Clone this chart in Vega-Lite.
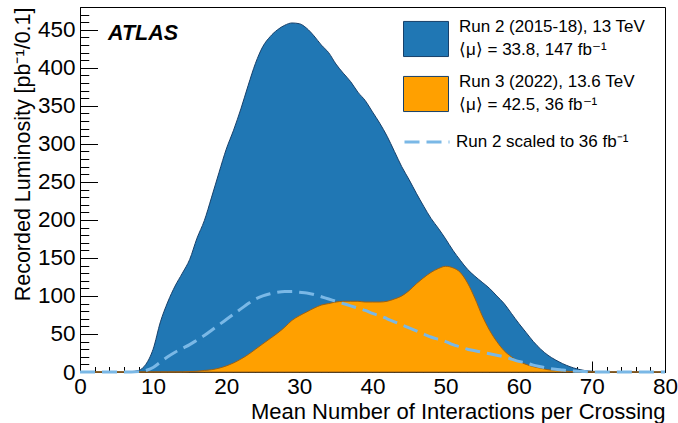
{
  "$schema": "https://vega.github.io/schema/vega-lite/v6.json",
  "width": 585,
  "height": 365,
  "autosize": "none",
  "padding": {"left": 80, "top": 7, "right": 13, "bottom": 51},
  "background": "white",
  "view": {"stroke": "black", "strokeWidth": 1},
  "title": {"text": "ATLAS", "anchor": "start", "frame": "group", "orient": "top", "offset": -36, "dx": 28, "dy": 34, "font": "Liberation Sans", "fontSize": 21.5, "fontStyle": "italic", "fontWeight": "bold", "color": "black", "baseline": "bottom"},
  "config": {
    "font": "Liberation Sans",
    "style": {"guide-label": {"lineHeight": 23}},
    "axis": {"domainColor": "black", "tickColor": "black", "labelColor": "black", "titleColor": "black", "labelFont": "Liberation Sans", "titleFont": "Liberation Sans", "labelFontSize": 22.5, "titleFontSize": 22, "titleFontWeight": "normal", "grid": false, "labelFlush": false, "labelOverlap": false, "domainWidth": 1, "tickWidth": 1, "zindex": 1}
  },
  "data": {"values": [
    {"mu": 0, "run2": 0, "run3": 0, "run2s": 0},
    {"mu": 1, "run2": 0, "run3": 0, "run2s": 0},
    {"mu": 2, "run2": 0, "run3": 0, "run2s": 0},
    {"mu": 3, "run2": 0, "run3": 0, "run2s": 0},
    {"mu": 4, "run2": 0, "run3": 0, "run2s": 0},
    {"mu": 5, "run2": 0, "run3": 0, "run2s": 0},
    {"mu": 6, "run2": 0, "run3": 0, "run2s": 0},
    {"mu": 7, "run2": 0.5, "run3": 0, "run2s": 0},
    {"mu": 8, "run2": 2, "run3": 0, "run2s": 0.5},
    {"mu": 9, "run2": 10, "run3": 0, "run2s": 2},
    {"mu": 10, "run2": 30, "run3": 0, "run2s": 6},
    {"mu": 11, "run2": 66, "run3": 0, "run2s": 13},
    {"mu": 12, "run2": 92, "run3": 0, "run2s": 20},
    {"mu": 13, "run2": 113, "run3": 0, "run2s": 26},
    {"mu": 14, "run2": 130, "run3": 0, "run2s": 31},
    {"mu": 15, "run2": 148, "run3": 0.5, "run2s": 36},
    {"mu": 16, "run2": 176, "run3": 1, "run2s": 42},
    {"mu": 17, "run2": 199, "run3": 2, "run2s": 48},
    {"mu": 18, "run2": 230, "run3": 3, "run2s": 55},
    {"mu": 19, "run2": 262, "run3": 5, "run2s": 62},
    {"mu": 20, "run2": 293, "run3": 8, "run2s": 69},
    {"mu": 21, "run2": 318, "run3": 12, "run2s": 76},
    {"mu": 22, "run2": 346, "run3": 17, "run2s": 83},
    {"mu": 23, "run2": 377, "run3": 23, "run2s": 90},
    {"mu": 24, "run2": 406, "run3": 30, "run2s": 96},
    {"mu": 25, "run2": 428, "run3": 37, "run2s": 100},
    {"mu": 26, "run2": 441, "run3": 44, "run2s": 103},
    {"mu": 27, "run2": 450, "run3": 51, "run2s": 105},
    {"mu": 28, "run2": 456, "run3": 59, "run2s": 106},
    {"mu": 29, "run2": 459, "run3": 68, "run2s": 106},
    {"mu": 30, "run2": 458, "run3": 74, "run2s": 105},
    {"mu": 31, "run2": 452, "run3": 79, "run2s": 104},
    {"mu": 32, "run2": 442, "run3": 84, "run2s": 102},
    {"mu": 33, "run2": 430, "run3": 88, "run2s": 99},
    {"mu": 34, "run2": 420, "run3": 90, "run2s": 96},
    {"mu": 35, "run2": 405, "run3": 92, "run2s": 93},
    {"mu": 36, "run2": 393, "run3": 93, "run2s": 90},
    {"mu": 37, "run2": 382, "run3": 93, "run2s": 87},
    {"mu": 38, "run2": 368, "run3": 93, "run2s": 84},
    {"mu": 39, "run2": 357, "run3": 92, "run2s": 81},
    {"mu": 40, "run2": 342, "run3": 92, "run2s": 77},
    {"mu": 41, "run2": 327, "run3": 92, "run2s": 74},
    {"mu": 42, "run2": 310, "run3": 93, "run2s": 70},
    {"mu": 43, "run2": 290, "run3": 96, "run2s": 66},
    {"mu": 44, "run2": 270, "run3": 100, "run2s": 62},
    {"mu": 45, "run2": 253, "run3": 107, "run2s": 58},
    {"mu": 46, "run2": 235, "run3": 116, "run2s": 54},
    {"mu": 47, "run2": 218, "run3": 124, "run2s": 50},
    {"mu": 48, "run2": 202, "run3": 131, "run2s": 46},
    {"mu": 49, "run2": 189, "run3": 136, "run2s": 43},
    {"mu": 50, "run2": 175, "run3": 139, "run2s": 40},
    {"mu": 51, "run2": 160, "run3": 137, "run2s": 36},
    {"mu": 52, "run2": 147, "run3": 131, "run2s": 33},
    {"mu": 53, "run2": 135, "run3": 117, "run2s": 30},
    {"mu": 54, "run2": 126, "run3": 97, "run2s": 28},
    {"mu": 55, "run2": 118, "run3": 74, "run2s": 26},
    {"mu": 56, "run2": 110, "run3": 55, "run2s": 24},
    {"mu": 57, "run2": 100, "run3": 40, "run2s": 22},
    {"mu": 58, "run2": 90, "run3": 28, "run2s": 20},
    {"mu": 59, "run2": 77, "run3": 20, "run2s": 17},
    {"mu": 60, "run2": 64, "run3": 14, "run2s": 14},
    {"mu": 61, "run2": 52, "run3": 10, "run2s": 12},
    {"mu": 62, "run2": 40, "run3": 7, "run2s": 9},
    {"mu": 63, "run2": 30, "run3": 5, "run2s": 7},
    {"mu": 64, "run2": 22, "run3": 3, "run2s": 5},
    {"mu": 65, "run2": 16, "run3": 2, "run2s": 3.5},
    {"mu": 66, "run2": 11, "run3": 1.3, "run2s": 2.5},
    {"mu": 67, "run2": 7, "run3": 0.7, "run2s": 1.5},
    {"mu": 68, "run2": 4, "run3": 0.3, "run2s": 1},
    {"mu": 69, "run2": 2, "run3": 0, "run2s": 0.5},
    {"mu": 70, "run2": 1, "run3": 0, "run2s": 0.2},
    {"mu": 71, "run2": 0.3, "run3": 0, "run2s": 0},
    {"mu": 72, "run2": 0, "run3": 0, "run2s": 0},
    {"mu": 73, "run2": 0, "run3": 0, "run2s": 0},
    {"mu": 74, "run2": 0, "run3": 0, "run2s": 0},
    {"mu": 75, "run2": 0, "run3": 0, "run2s": 0},
    {"mu": 76, "run2": 0, "run3": 0, "run2s": 0},
    {"mu": 77, "run2": 0, "run3": 0, "run2s": 0},
    {"mu": 78, "run2": 0, "run3": 0, "run2s": 0},
    {"mu": 79, "run2": 0, "run3": 0, "run2s": 0},
    {"mu": 80, "run2": 0, "run3": 0, "run2s": 0}
  ]},
  "transform": [{"fold": ["run2", "run3", "run2s"], "as": ["series", "lumi"]}],
  "encoding": {
    "x": {"field": "mu", "type": "quantitative", "scale": {"domain": [0, 80], "nice": false, "zero": false},
      "axis": {"title": "Mean Number of Interactions per Crossing", "titleAnchor": "end", "titleAlign": "right", "titleX": 585, "titleY": 46, "titleBaseline": "alphabetic",
        "values": [0,2,4,6,8,10,12,14,16,18,20,22,24,26,28,30,32,34,36,38,40,42,44,46,48,50,52,54,56,58,60,62,64,66,68,70,72,74,76,78,80],
        "labelExpr": "datum.value % 10 === 0 ? datum.label : ''",
        "tickSize": {"condition": {"test": "datum.value % 10 === 0", "value": -11}, "value": -5.5},
        "labelPadding": 14}
    },
    "y": {"field": "lumi", "type": "quantitative", "scale": {"domain": [0, 480], "nice": false},
      "axis": {"title": "Recorded Luminosity [pb⁻¹/0.1]", "titleFontSize": 21.5, "titleAnchor": "end", "titleAlign": "right", "titleAngle": -90, "titleX": -51, "titleY": 0, "titleBaseline": "alphabetic",
        "values": [0,10,20,30,40,50,60,70,80,90,100,110,120,130,140,150,160,170,180,190,200,210,220,230,240,250,260,270,280,290,300,310,320,330,340,350,360,370,380,390,400,410,420,430,440,450,460,470,480],
        "labelExpr": "datum.value % 50 === 0 ? datum.label : ''",
        "tickSize": {"condition": {"test": "datum.value % 50 === 0", "value": -17.5}, "value": -8.75},
        "labelPadding": 22.5}
    }
  },
  "layer": [
    {
      "transform": [{"filter": "datum.series === 'run2'"}],
      "mark": {"type": "area", "interpolate": "monotone", "stroke": "#17406a", "strokeWidth": 1},
      "encoding": {
        "color": {"datum": "r2", "type": "nominal",
          "scale": {"domain": ["r2", "r3"], "range": ["#2077b4", "#ffa000"]},
          "legend": {"orient": "none", "legendX": 323, "legendY": -3, "title": null,
            "symbolType": "M-1,-0.247H1V1.313H-1Z", "symbolSize": 2025, "symbolStrokeWidth": 1,
            "labelFont": "Liberation Sans", "labelFontSize": 17, "labelColor": "black", "labelOffset": 10, "rowPadding": -12, "labelLimit": 400,
            "labelExpr": "datum.value === 'r2' ? ['Run 2 (2015-18), 13 TeV', '⟨μ⟩ = 33.8, 147 fb⁻¹'] : ['Run 3 (2022), 13.6 TeV', '⟨μ⟩ = 42.5, 36 fb⁻¹']"
          }}
      }
    },
    {
      "transform": [{"filter": "datum.series === 'run3'"}],
      "mark": {"type": "area", "interpolate": "monotone", "stroke": "#a06010", "strokeWidth": 1},
      "encoding": {
        "color": {"datum": "r3", "type": "nominal"}
      }
    },
    {
      "transform": [{"filter": "datum.series === 'run2s'"}],
      "mark": {"type": "line", "interpolate": "monotone", "strokeWidth": 3, "strokeDash": [15, 7], "clip": false},
      "encoding": {
        "stroke": {"datum": "Run 2 scaled to 36 fb⁻¹", "type": "nominal",
          "scale": {"range": ["#7ab8e6"]},
          "legend": {"orient": "none", "legendX": 323, "legendY": 111, "title": null,
            "symbolType": "stroke", "symbolSize": 2025, "symbolStrokeWidth": 3, "symbolDash": [15, 7],
            "labelFont": "Liberation Sans", "labelFontSize": 17, "labelColor": "black", "labelOffset": 5, "labelLimit": 400}}
      }
    }
  ]
}
